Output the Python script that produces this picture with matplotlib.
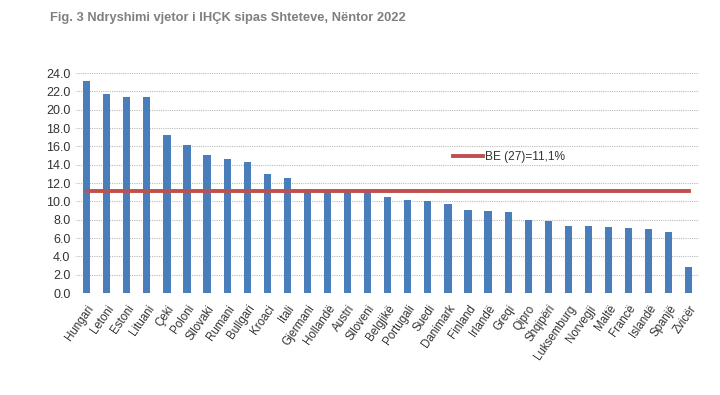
import numpy as np
import matplotlib
matplotlib.use('Agg')
import matplotlib.pyplot as plt

plt.rcParams['font.family'] = ['Liberation Sans', 'DejaVu Sans']

vendet = ['Hungari', 'Letoni', 'Estoni', 'Lituani', 'Çeki', 'Poloni', 'Sllovaki',
          'Rumani', 'Bullgari', 'Kroaci', 'Itali', 'Gjermani', 'Hollandë', 'Austri',
          'Slloveni', 'Belgjikë', 'Portugali', 'Suedi', 'Danimark', 'Finland',
          'Irlandë', 'Greqi', 'Qipro', 'Shqipëri', 'Luksemburg', 'Norvegji', 'Maltë',
          'Francë', 'Islandë', 'Spanjë', 'Zvicër']
inflacioni = [23.1, 21.7, 21.4, 21.4, 17.2, 16.1, 15.1, 14.6, 14.3, 13.0, 12.6,
              11.3, 11.2, 11.1, 11.0, 10.5, 10.2, 10.1, 9.7, 9.1, 9.0, 8.8, 8.0,
              7.9, 7.3, 7.3, 7.2, 7.1, 7.0, 6.7, 2.9]
be27 = 11.1
yticks = np.arange(0, 24.1, 2.0)

fig = plt.figure(figsize=(7.2, 3.95), dpi=100)
ax = fig.add_axes([0.1056, 0.258, 0.865, 0.557])

x = np.arange(len(vendet))
ax.bar(x, inflacioni, width=0.36, color='#4a7ebb', zorder=2)
ax.plot([x[0], x[-1]], [be27, be27], color='#c0504d', lw=2.8, zorder=3,
        label='BE (27)=11,1%')

ax.set_xlim(-0.53, len(vendet) - 0.5)
ax.set_ylim(0, 24)
ax.set_yticks(yticks)
ax.set_yticklabels([f'{v:.1f}' for v in yticks], fontsize=9, color='#333333')
ax.set_xticks(x)
ax.set_xticklabels(vendet, rotation=55, ha='right', rotation_mode='anchor',
                   fontsize=8.3, color='#333333')
ax.tick_params(axis='y', length=0, pad=4)
ax.tick_params(axis='x', length=0, pad=7)
ax.grid(axis='y', color='#bbbbbb', linestyle=(0, (1, 1)), lw=0.8, zorder=0)
for s in ax.spines.values():
    s.set_visible(False)

ax.legend(loc='center left', bbox_to_anchor=(0.598, 0.618), frameon=False,
          fontsize=8.6, handlelength=2.5, handletextpad=0.15, labelcolor='#333333',
          borderaxespad=0)

fig.text(0.069, 0.955, 'Fig. 3 Ndryshimi vjetor i IHÇK sipas Shteteve, Nëntor 2022',
         fontsize=9.3, fontweight='bold', color='#7f7f7f', va='center')

fig.savefig('out.png', dpi=100)
